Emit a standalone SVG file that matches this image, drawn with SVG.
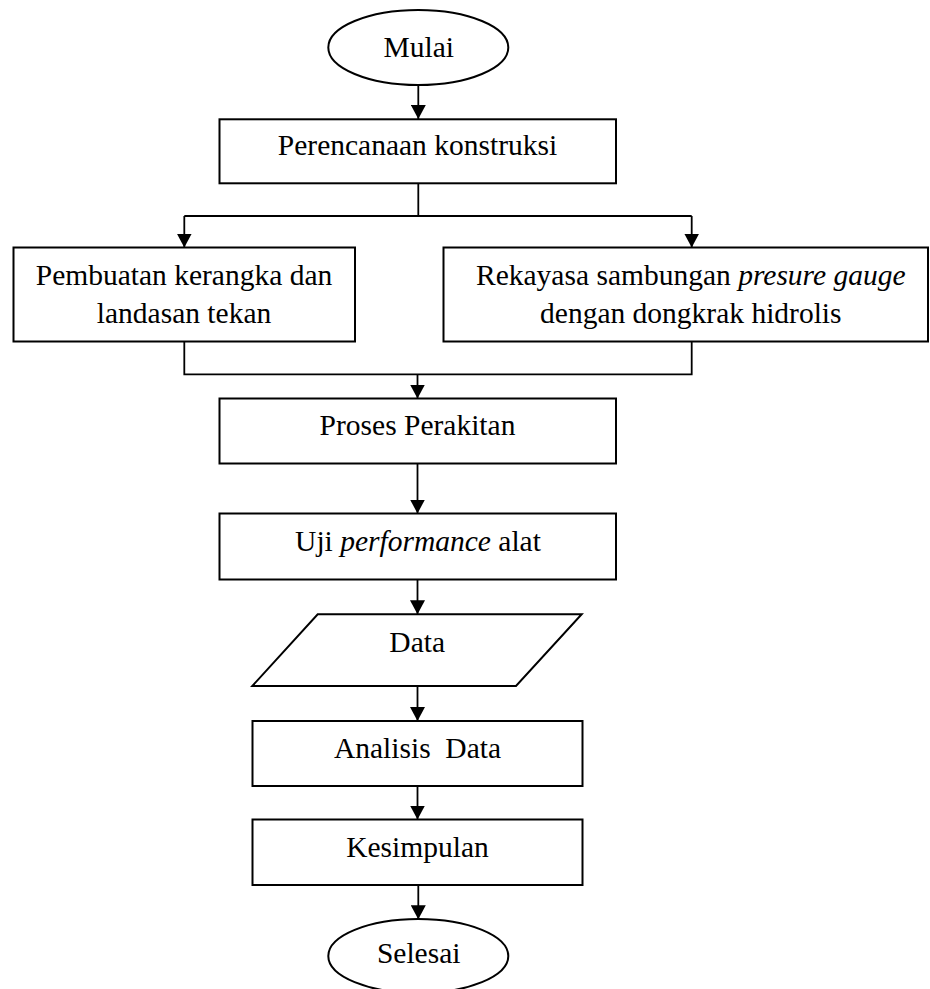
<svg xmlns="http://www.w3.org/2000/svg" width="930" height="989" viewBox="0 0 930 989">
<style>
.shape{fill:#fff;stroke:#000;stroke-width:2}
.conn{fill:none;stroke:#000;stroke-width:1.8}
text{font-family:"Liberation Serif","Times New Roman",serif;font-size:29.5px;fill:#000;text-anchor:middle;white-space:pre}
.it{font-style:italic}
</style>
<defs>
<marker id="arr" viewBox="0 0 14 15" refX="14" refY="7.5" markerWidth="14" markerHeight="15" markerUnits="userSpaceOnUse" orient="auto">
<path d="M0,0 L14,7.5 L0,15 Z" fill="#000"/>
</marker>
</defs>
<rect width="930" height="989" fill="#fff"/>
<g id="connectors">
<line class="conn" x1="418.3" y1="85" x2="418.3" y2="119" marker-end="url(#arr)"/>
<line class="conn" x1="418.3" y1="183.5" x2="418.3" y2="216"/>
<line class="conn" x1="184.3" y1="216" x2="691.7" y2="216"/>
<line class="conn" x1="184.3" y1="216" x2="184.3" y2="247.5" marker-end="url(#arr)"/>
<line class="conn" x1="691.7" y1="216" x2="691.7" y2="247.5" marker-end="url(#arr)"/>
<polyline class="conn" points="184.3,341.5 184.3,374.3 691.7,374.3 691.7,341.5"/>
<line class="conn" x1="417.5" y1="374.3" x2="417.5" y2="398.5" marker-end="url(#arr)"/>
<line class="conn" x1="417.5" y1="463.5" x2="417.5" y2="513.5" marker-end="url(#arr)"/>
<line class="conn" x1="417.5" y1="579.5" x2="417.5" y2="614.3" marker-end="url(#arr)"/>
<line class="conn" x1="417.5" y1="686" x2="417.5" y2="721" marker-end="url(#arr)"/>
<line class="conn" x1="417.5" y1="786" x2="417.5" y2="819.5" marker-end="url(#arr)"/>
<line class="conn" x1="418.3" y1="885" x2="418.3" y2="919.3" marker-end="url(#arr)"/>
</g>
<g id="mulai">
<ellipse class="shape" cx="418.3" cy="47.5" rx="90" ry="37.5"/>
<text x="418.7" y="56.7">Mulai</text>
</g>
<g id="perencanaan">
<rect class="shape" x="219.5" y="119.3" width="396.5" height="64"/>
<text x="417.5" y="155">Perencanaan konstruksi</text>
</g>
<g id="pembuatan">
<rect class="shape" x="13.5" y="247.5" width="341.5" height="94"/>
<text x="184" y="285">Pembuatan kerangka dan</text>
<text x="184" y="323.3">landasan tekan</text>
</g>
<g id="rekayasa">
<rect class="shape" x="443.5" y="247.5" width="484.5" height="94"/>
<text x="690.8" y="285">Rekayasa sambungan <tspan class="it">presure gauge</tspan></text>
<text x="690.8" y="323.3">dengan dongkrak hidrolis</text>
</g>
<g id="proses">
<rect class="shape" x="219.5" y="398.5" width="396.5" height="65"/>
<text x="417.5" y="435">Proses Perakitan</text>
</g>
<g id="uji">
<rect class="shape" x="219.5" y="513.5" width="396.5" height="66"/>
<text x="418" y="550.7">Uji <tspan class="it">performance</tspan> alat</text>
</g>
<g id="data">
<polygon class="shape" points="317.7,614.3 581.7,614.3 516,686 252.3,686"/>
<text x="417.2" y="651.7">Data</text>
</g>
<g id="analisis">
<rect class="shape" x="252.5" y="721" width="330" height="65"/>
<text x="417.5" y="758.3">Analisis  Data</text>
</g>
<g id="kesimpulan">
<rect class="shape" x="252.5" y="819.5" width="330" height="65.5"/>
<text x="417.5" y="856.7">Kesimpulan</text>
</g>
<g id="selesai">
<ellipse class="shape" cx="418.3" cy="956" rx="90" ry="37"/>
<text x="418.7" y="963.3">Selesai</text>
</g>
</svg>
